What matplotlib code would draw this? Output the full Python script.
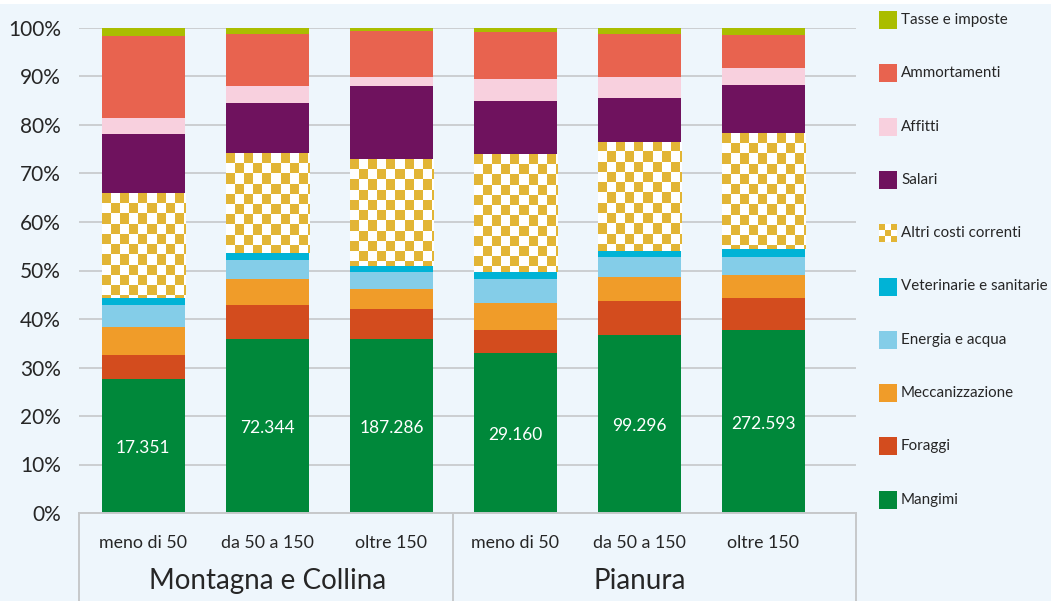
import numpy as np
import matplotlib
matplotlib.use("Agg")
import matplotlib.pyplot as plt
from matplotlib.patches import Rectangle
from matplotlib.transforms import blended_transform_factory

plt.rcParams['font.family'] = ['Lato', 'DejaVu Sans']

# --- data (share of total costs, %) ---
groups = ["Montagna e Collina", "Pianura"]
classes = ["meno di 50", "da 50 a 150", "oltre 150"]
totals = ["17.351", "72.344", "187.286", "29.160", "99.296", "272.593"]

mangimi = [27.6, 35.8, 35.8, 32.9, 36.7, 37.7]
foraggi = [4.9, 7.0, 6.2, 4.8, 7.0, 6.6]
meccanizzazione = [5.8, 5.4, 4.1, 5.6, 4.9, 4.7]
energia_acqua = [4.5, 3.9, 3.6, 4.9, 4.1, 3.7]
veterinarie = [1.6, 1.5, 1.2, 1.5, 1.3, 1.7]
altri_costi = [21.6, 20.6, 22.0, 24.3, 22.5, 23.9]
salari = [12.1, 10.3, 15.1, 10.9, 9.0, 9.9]
affitti = [3.3, 3.5, 1.9, 4.6, 4.4, 3.5]
ammortamenti = [17.0, 10.8, 9.5, 9.7, 8.9, 6.9]
tasse = [1.6, 1.2, 0.6, 0.8, 1.2, 1.4]

series = [
    ("Mangimi", mangimi, "#00883A"),
    ("Foraggi", foraggi, "#D34C1E"),
    ("Meccanizzazione", meccanizzazione, "#F09C29"),
    ("Energia e acqua", energia_acqua, "#84CDE8"),
    ("Veterinarie e sanitarie", veterinarie, "#00B3D6"),
    ("Altri costi correnti", altri_costi, "checker"),
    ("Salari", salari, "#6F125E"),
    ("Affitti", affitti, "#F8D0DE"),
    ("Ammortamenti", ammortamenti, "#E8634F"),
    ("Tasse e imposte", tasse, "#AABD00"),
]

GOLD = "#E2B535"
BG = "#EEF6FC"
GRID = "#C6C8CA"
TXT = "#262626"

W, H = 1051, 601
fig = plt.figure(figsize=(W / 100, H / 100), dpi=100, facecolor=BG)
# thin white strip along the top edge
fig.add_artist(Rectangle((0, 1 - 4 / H), 1, 4 / H, transform=fig.transFigure,
                         facecolor="white", edgecolor="none"))

ax_l, ax_r, ax_t, ax_b = 79, 856, 28, 513
ax = fig.add_axes([ax_l / W, (H - ax_b) / H, (ax_r - ax_l) / W, (ax_b - ax_t) / H])
ax.set_facecolor(BG)

x = np.arange(len(totals))
bar_w = 0.67
xmin, xmax = -0.519, 5.746
ymin, ymax = 0, 100

checker_rgb = np.array([[1, 1, 1], [0xE2 / 255, 0xB5 / 255, 0x35 / 255]])
cell_w = 9.0 / 124.0      # data units along x
cell_h = 10.2 / 4.847     # percentage points along y

bottom = np.zeros(len(x))
for name, vals, col in series:
    vals = np.array(vals)
    if col == "checker":
        bars = ax.bar(x, vals, bar_w, bottom=bottom, color="white",
                      edgecolor="none", zorder=2)
        for rect in bars:
            x0 = rect.get_x()
            top = rect.get_y() + rect.get_height()
            ncols = int(np.ceil(rect.get_width() / cell_w))
            nrows = int(np.ceil(rect.get_height() / cell_h))
            ii, jj = np.indices((nrows, ncols))
            img = checker_rgb[((ii + jj) % 2 == 0).astype(int)]
            im = ax.imshow(img, extent=(x0, x0 + ncols * cell_w,
                                        top - nrows * cell_h, top),
                           origin="upper", interpolation="nearest",
                           aspect="auto", zorder=2.1)
            im.set_clip_path(rect)
    else:
        ax.bar(x, vals, bar_w, bottom=bottom, color=col, edgecolor="none", zorder=2)
    if name == "Mangimi":
        for xi, v, lab in zip(x, vals, totals):
            ax.text(xi, v / 2 - 0.4, lab, ha="center", va="center",
                    color="white", fontsize=12.5, zorder=5)
    bottom += vals

ax.set_xlim(xmin, xmax)
ax.set_ylim(ymin, ymax)

# y axis
ax.set_yticks(np.arange(0, 101, 10))
ax.set_yticklabels([f"{v}%" for v in range(0, 101, 10)], fontsize=15, color=TXT)
ax.tick_params(axis="y", length=0, pad=13)
ax.set_xticks([])
ax.grid(axis="y", color=GRID, linewidth=1.2, zorder=0)
ax.set_axisbelow(True)
for s in ["left", "right", "top"]:
    ax.spines[s].set_visible(False)
ax.spines["bottom"].set_color(GRID)
ax.spines["bottom"].set_linewidth(1.4)
ax.spines["bottom"].set_zorder(3)

# category axis: class labels, group labels and separators
tr = blended_transform_factory(ax.transData, ax.transAxes)
for xi, lab in zip(x, classes * 2):
    ax.text(xi, -0.062, lab, transform=tr, ha="center", va="center",
            fontsize=12.8, color=TXT)
for gi, g in enumerate(groups):
    ax.text(gi * 3 + 1, -0.140, g, transform=tr, ha="center", va="center",
            fontsize=20, color=TXT)
for xv in [xmin, 2.5, xmax]:
    ax.plot([xv, xv], [0, -0.19], transform=tr, color=GRID, linewidth=1.4,
            clip_on=False, zorder=3)

# legend, top to bottom
leg_x, sq = 879, 18
for k, (name, vals, col) in enumerate(reversed(series)):
    cy = 20 + k * 53.3
    y0 = (H - (cy + sq / 2)) / H
    if col == "checker":
        fig.add_artist(Rectangle((leg_x / W, y0), sq / W, sq / H,
                                 transform=fig.transFigure, facecolor="white",
                                 edgecolor="none"))
        c = sq / 3
        for i in range(3):
            for j in range(3):
                if (i + j) % 2 == 0:
                    fig.add_artist(Rectangle(((leg_x + j * c) / W,
                                              (H - (cy - sq / 2 + (i + 1) * c)) / H),
                                             c / W, c / H, transform=fig.transFigure,
                                             facecolor=GOLD, edgecolor="none"))
    else:
        fig.add_artist(Rectangle((leg_x / W, y0), sq / W, sq / H,
                                 transform=fig.transFigure, facecolor=col,
                                 edgecolor="none"))
    fig.text((leg_x + sq + 4) / W, (H - cy) / H, name, ha="left", va="center",
             fontsize=10.9, color=TXT)

fig.savefig("out.png", dpi=100, facecolor=BG)
